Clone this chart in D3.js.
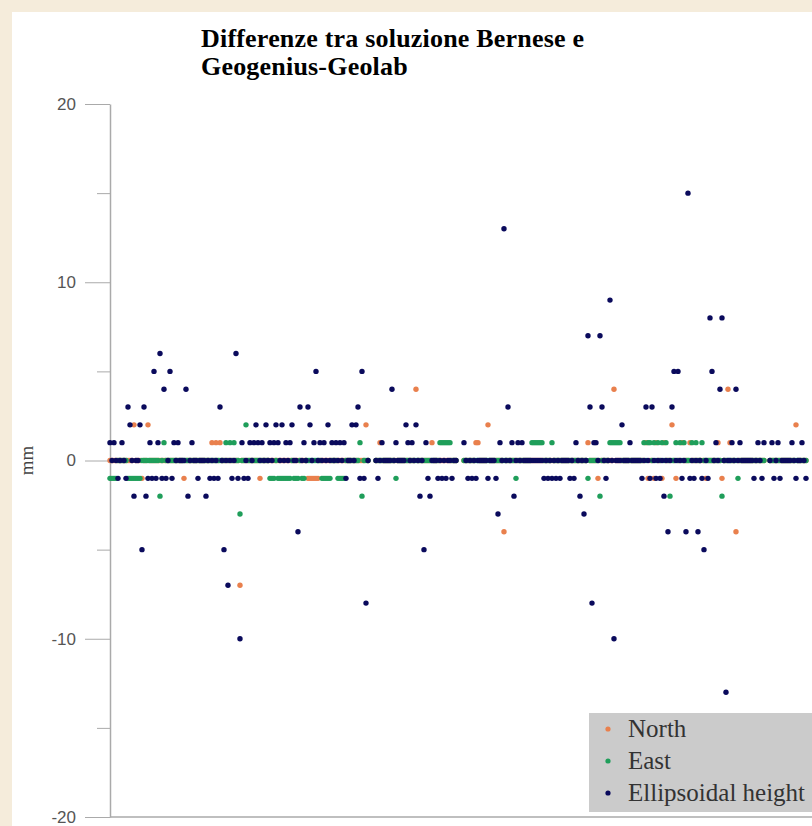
<!DOCTYPE html>
<html>
<head>
<meta charset="utf-8">
<script src="https://cdn.jsdelivr.net/npm/d3@7"></script>
<style>
body { margin: 0; background: #f5ecdb; }
svg { display: block; }
</style>
</head>
<body>
<svg id="chart" width="812" height="826"></svg>
<script>
// differences in mm, one value per solution point (null = no point)
var heightMm = [
	1,0,1,0,-1,0,1,0,-1,3,  2,0,-2,0,0,2,-5,3,-2,-1,  1,-1,5,-1,1,6,-1,4,-1,0,  5,-1,1,0,1,0,0,0,4,-2,
	0,1,0,0,-1,0,0,0,-2,0,  -1,0,-1,0,-1,3,0,-5,0,-7,  0,-1,0,6,-1,-10,1,-1,0,-1,  1,0,1,2,1,0,1,0,2,0,
	1,0,1,2,1,0,2,0,1,0,  1,2,0,0,-4,3,0,1,0,3,  2,0,1,5,0,1,0,1,0,2,  0,1,0,1,0,1,0,1,-1,0,
	0,2,0,2,3,-1,5,-1,-8,0,  null,null,null,0,-1,0,1,0,0,0,  0,4,0,1,0,0,0,0,2,1,  0,1,0,2,0,-2,0,-5,1,-1,
	-2,0,0,0,-1,0,-1,0,-1,0,  0,-1,0,0,null,null,null,1,0,-1,  0,-1,0,-1,0,0,0,0,0,-1,  0,0,0,-1,-3,1,0,13,0,3,
	0,1,-2,0,1,0,1,0,0,0,  0,0,0,0,0,0,0,-1,0,-1,  0,-1,0,-1,0,-1,0,0,0,0,  -1,0,-1,1,0,-2,0,-3,0,7,
	3,-8,1,1,0,7,3,0,-1,0,  9,0,-10,0,0,0,2,0,0,0,  1,0,0,0,0,0,-1,0,3,0,  -1,3,0,-1,0,-1,0,-2,0,-4,
	0,3,5,0,5,0,-1,0,-4,15,  -1,0,-1,0,-4,0,-1,-5,0,-1,  8,5,0,1,0,4,8,0,-13,0,  0,1,0,4,0,1,0,0,0,0,
	0,0,-1,0,1,0,-1,1,null,null,  0,1,-1,0,1,-1,0,0,0,0,  0,1,0,-1,0,0,1,0,-1
];
var eastMm = [
	-1,-1,-1,-1,0,0,0,0,0,-1,  -1,-1,-1,-1,-1,-1,0,0,0,0,  0,0,0,0,0,-2,0,1,0,0,  0,0,0,0,0,0,0,0,0,0,
	0,0,0,0,0,0,0,0,0,0,  0,0,0,0,0,0,0,0,1,0,  1,0,1,0,0,-3,0,0,2,0,  0,0,0,0,0,0,0,0,0,0,
	-1,-1,-1,0,-1,-1,-1,-1,-1,-1,  -1,0,-1,-1,-1,0,-1,-1,0,0,  0,0,0,0,0,0,-1,-1,-1,-1,  -1,0,0,0,-1,-1,-1,-1,0,0,
	0,0,0,0,0,1,-2,0,0,0,  null,null,null,0,0,0,0,0,0,0,  0,0,0,-1,0,0,0,0,0,0,  0,0,0,0,0,0,0,0,0,0,
	0,0,0,0,0,1,1,1,1,1,  1,0,0,0,null,null,null,0,0,0,  0,0,0,0,0,0,0,0,0,0,  0,0,0,0,0,0,0,0,0,0,
	0,0,0,-1,0,0,0,0,0,0,  0,1,1,1,1,1,1,0,0,0,  0,1,0,0,0,0,0,0,0,0,  0,0,0,0,0,0,0,0,0,-1,
	0,0,0,0,0,-2,0,0,0,0,  1,1,1,1,1,1,0,0,0,0,  0,0,0,0,0,0,0,1,0,1,  1,0,1,0,1,0,1,0,1,0,
	-2,0,0,1,0,1,0,1,0,0,  0,1,0,1,0,0,1,0,0,0,  0,0,0,0,0,0,-2,0,0,0,  0,0,0,0,-1,0,0,0,0,0,
	0,0,0,0,0,0,0,0,null,null,  0,0,0,0,0,0,0,0,0,0,  0,0,0,0,0,0,0,0,0
];
var northMm = [
	0,0,0,0,0,0,0,0,0,0,  0,0,2,0,0,0,-1,0,0,2,  0,0,0,0,0,0,0,0,0,0,  0,0,0,0,0,0,0,-1,0,0,
	0,0,0,0,0,0,0,0,0,0,  0,1,0,1,0,1,0,0,0,0,  0,0,0,0,0,-7,0,0,0,0,  0,0,0,0,0,-1,0,0,0,0,
	0,0,0,0,0,0,0,0,0,0,  0,0,0,0,0,0,0,0,0,-1,  -1,-1,-1,-1,-1,0,0,0,0,0,  0,0,0,0,0,0,0,0,0,0,
	0,0,0,0,0,0,0,0,2,0,  null,null,null,0,0,1,0,0,0,0,  0,0,0,0,0,0,0,0,0,0,  0,0,0,4,0,0,0,0,0,0,
	0,1,0,0,0,0,0,0,0,0,  0,0,0,0,null,null,null,0,0,0,  0,0,0,1,1,0,0,0,0,2,  0,0,0,0,0,0,0,-4,0,0,
	0,0,0,0,0,0,0,0,0,0,  0,0,0,0,0,0,0,0,0,0,  0,0,0,0,0,0,0,0,0,0,  0,0,0,0,0,0,0,0,0,1,
	0,0,0,0,-1,0,0,0,0,0,  0,0,4,0,0,0,0,0,0,0,  0,0,0,0,0,0,0,0,1,-1,  0,0,-1,1,0,0,-1,1,0,0,
	0,2,0,-1,0,0,1,0,0,0,  1,0,0,0,0,0,0,0,-1,0,  0,0,0,0,1,0,-1,0,0,4,  1,0,0,-4,0,0,0,0,0,0,
	0,0,0,0,0,0,0,0,null,null,  0,0,0,0,0,0,0,0,0,0,  0,0,0,2,0,0,0,0,0
];

var seriesNames = ["North", "East", "Ellipsoidal height"];
var seriesColors = ["#e9804d", "#1f9e5a", "#0a0a5c"];
var yMajorTicks = [20, 10, 0, -10, -20];
var yMinorTicks = [15, 5, -5, -15];
var titleLines = ["Differenze tra soluzione Bernese e", "Geogenius-Geolab"];
var yLabel = "mm";

var svg = d3.select("#chart");

// white sheet on the beige page
svg.append("rect")
	.attr("x", 12).attr("y", 12)
	.attr("width", 800).attr("height", 814)
	.attr("fill", "#fff");

var x = d3.scaleLinear()
	.domain([0, heightMm.length - 1])
	.range([110, 806]);

var y = d3.scaleLinear()
	.domain([-20, 20])
	.range([817, 104]);

// title
svg.append("g")
	.attr("font-family", "'Liberation Serif', 'Times New Roman', serif")
	.attr("font-weight", "bold")
	.attr("font-size", 26)
	.attr("letter-spacing", 0.2)
	.selectAll("text")
	.data(titleLines)
	.enter().append("text")
	.attr("x", 201)
	.attr("y", function(d, i) { return 47 + i * 28; })
	.text(function(d) { return d; });

// y axis, major then minor ticks
var yAxis = svg.append("g")
	.attr("transform", "translate(110,0)")
	.call(d3.axisLeft(y).tickValues(yMajorTicks).tickSize(25).tickSizeOuter(0).tickPadding(9).tickFormat(String));

yAxis.attr("font-family", "'Liberation Sans', Arial, sans-serif").attr("font-size", 17);
yAxis.select(".domain").attr("stroke", "#aaa").attr("stroke-width", 1.5);
yAxis.selectAll(".tick line").attr("stroke", "#aaa");
yAxis.selectAll(".tick text").attr("fill", "#555");

var yMinor = svg.append("g")
	.attr("transform", "translate(110,0)")
	.call(d3.axisLeft(y).tickValues(yMinorTicks).tickSize(13).tickSizeOuter(0).tickFormat(""));
yMinor.select(".domain").remove();
yMinor.selectAll(".tick line").attr("stroke", "#aaa");

// bottom line
svg.append("line")
	.attr("x1", 110).attr("x2", 812)
	.attr("y1", y(-20)).attr("y2", y(-20))
	.attr("stroke", "#aaa")
	.attr("stroke-width", 1.5);

svg.append("text")
	.attr("transform", "translate(33," + y(0) + ") rotate(-90)")
	.attr("text-anchor", "middle")
	.attr("font-family", "'Liberation Serif', 'Times New Roman', serif")
	.attr("font-size", 19)
	.attr("fill", "#444")
	.text(yLabel);

// points, North first, height on top
var allSeries = [northMm, eastMm, heightMm];

svg.append("g")
	.selectAll("g")
	.data(allSeries)
	.enter().append("g")
	.attr("fill", function(d, i) { return seriesColors[i]; })
	.selectAll("circle")
	.data(function(d) {
		return d.map(function(v, i) { return {i: i, v: v}; })
			.filter(function(p) { return p.v !== null; });
	})
	.enter().append("circle")
	.attr("cx", function(d) { return x(d.i); })
	.attr("cy", function(d) { return y(d.v); })
	.attr("r", 2.7);

// legend
var legend = svg.append("g");

legend.append("rect")
	.attr("x", 589).attr("y", 713)
	.attr("width", 223).attr("height", 99)
	.attr("fill", "#cbcbcb");

var legendItem = legend.selectAll("g")
	.data(seriesNames)
	.enter().append("g")
	.attr("transform", function(d, i) { return "translate(0," + (729 + i * 32) + ")"; });

legendItem.append("circle")
	.attr("cx", 608)
	.attr("r", 2.6)
	.attr("fill", function(d, i) { return seriesColors[i]; });

legendItem.append("text")
	.attr("x", 628)
	.attr("y", 8)
	.attr("font-family", "'Liberation Serif', 'Times New Roman', serif")
	.attr("font-size", 25)
	.attr("fill", "#333")
	.text(function(d) { return d; });
</script>
</body>
</html>
